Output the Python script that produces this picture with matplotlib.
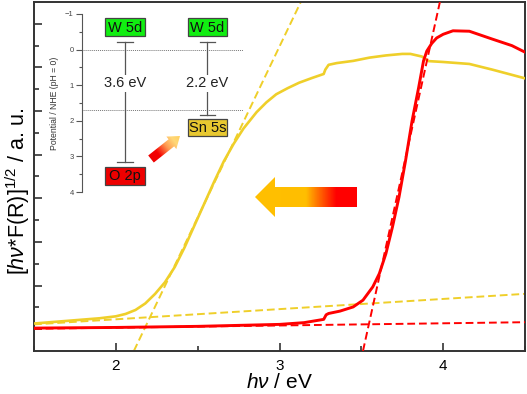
import numpy as np
import matplotlib
matplotlib.use("Agg")
import matplotlib.pyplot as plt
from matplotlib.patches import Polygon, Rectangle
from matplotlib.colors import LinearSegmentedColormap
from matplotlib.ticker import MultipleLocator, FixedLocator, NullFormatter

plt.rcParams['font.family'] = ['Liberation Sans', 'DejaVu Sans']
plt.rcParams['mathtext.fontset'] = 'custom'
plt.rcParams['mathtext.rm'] = 'Liberation Sans'
plt.rcParams['mathtext.it'] = 'Liberation Sans:italic'

# ---------------- data ----------------
red_x = [1.50, 2.00, 2.50, 3.00, 3.15, 3.27, 3.285, 3.30, 3.37, 3.45, 3.51, 3.57,
         3.61, 3.65, 3.69, 3.73, 3.77, 3.81, 3.85, 3.88, 3.90, 3.93, 3.96, 4.00,
         4.06, 4.16, 4.30, 4.42, 4.50]
red_y = [1.05, 1.08, 1.13, 1.22, 1.30, 1.45, 1.66, 1.72, 1.83, 2.02, 2.33, 2.94,
         3.55, 4.46, 5.68, 7.05, 8.72, 10.55, 12.07, 13.30, 13.75, 14.10, 14.35, 14.52,
         14.68, 14.66, 14.30, 14.00, 13.70]

yel_x = [1.50, 1.70, 1.90, 2.00, 2.06, 2.12, 2.18, 2.24, 2.30, 2.36, 2.42, 2.48,
         2.54, 2.60, 2.66, 2.72, 2.78, 2.86, 2.92, 2.98, 3.05, 3.12, 3.20,
         3.27, 3.28, 3.30, 3.35, 3.45, 3.55, 3.65, 3.75, 3.80, 3.87, 3.91, 4.00,
         4.16, 4.30, 4.50]
yel_y = [1.26, 1.38, 1.50, 1.59, 1.70, 1.88, 2.18, 2.62, 3.15, 3.85, 4.75, 5.75,
         6.75, 7.75, 8.70, 9.50, 10.20, 10.95, 11.40, 11.77, 12.05, 12.30, 12.52,
         12.70, 12.90, 13.12, 13.20, 13.30, 13.45, 13.55, 13.62, 13.62, 13.50, 13.29, 13.25,
         13.16, 12.90, 12.50]

# linear fits (dashed): endpoints
red_tan_x = [3.51, 3.98]
red_tan_y = [0.0, 16.0]
red_base_x = [1.50, 4.50]
red_base_y = [1.02, 1.32]
yel_tan_x = [2.11, 3.13]
yel_tan_y = [0.0, 16.0]
yel_base_x = [1.50, 4.50]
yel_base_y = [1.22, 2.62]

x_ticks = [2, 3, 4]

# inset band diagram
levels_cb = [-0.21, -0.21]          # W 5d caps
levels_vb = [3.17, 1.85]            # O 2p, Sn 5s caps
gap_labels = ['3.6 eV', '2.2 eV']
ref_lines = [0.0, 1.7]
inset_ticks = [-1, 0, 1, 2, 3, 4]

RED = '#FF0000'
YEL = '#EFCF2A'

fig = plt.figure(figsize=(5.27, 3.94), dpi=100)
W, H = 527.0, 394.0
ax = fig.add_axes([34 / W, 1 - 351 / H, (525 - 34) / W, (351 - 2) / H])

ax.plot(yel_x, yel_y, color=YEL, lw=1.9, zorder=3, solid_joinstyle='round')
ax.plot(red_x, red_y, color=RED, lw=2.1, zorder=4, solid_joinstyle='round')
dash = (4.0, 2.0)
ax.plot(yel_tan_x, yel_tan_y, color=YEL, lw=1.4, dashes=dash, zorder=2)
ax.plot(yel_base_x, yel_base_y, color=YEL, lw=1.4, dashes=dash, zorder=2)
ax.plot(red_tan_x, red_tan_y, color=RED, lw=1.4, dashes=dash, zorder=5)
ax.plot(red_base_x, red_base_y, color=RED, lw=1.4, dashes=dash, zorder=5)

ax.set_xlim(1.5, 4.5)
ax.set_ylim(0, 16)
ax.set_xticks(x_ticks)
ax.xaxis.set_minor_locator(MultipleLocator(0.5))
ax.yaxis.set_major_locator(FixedLocator(np.arange(1, 16, 2)))
ax.yaxis.set_minor_locator(FixedLocator(np.arange(2, 15, 2)))
ax.yaxis.set_major_formatter(NullFormatter())
ax.tick_params(which='both', direction='in', top=False, right=False,
               color='#333333', width=1.2, labelsize=11, pad=6)
ax.tick_params(which='major', length=6)
ax.tick_params(which='minor', length=3.5)
for s in ax.spines.values():
    s.set_color('#333333')
    s.set_linewidth(1.4)

ax.set_xlabel(r'$h\nu$ / eV', fontsize=15, labelpad=0)
ax.set_ylabel(r'[$h\nu$*F(R)]$^{1/2}$ / a. u.', fontsize=15.5)
ax.yaxis.set_label_coords(-0.004, 0.457)

# ---------------- inset ----------------
axi = fig.add_axes([82 / W, 1 - 192 / H, 161 / W, 178 / H])
axi.patch.set_alpha(0)
axi.set_xlim(0, 1)
axi.set_ylim(4, -1)
axi.set_yticks(inset_ticks)
axi.yaxis.set_minor_locator(MultipleLocator(0.5))
axi.set_xticks([])
for k in ['top', 'right', 'bottom']:
    axi.spines[k].set_visible(False)
axi.spines['left'].set_color('#555555')
axi.spines['left'].set_linewidth(0.8)
axi.tick_params(axis='y', which='both', direction='out', color='#555555', width=0.8,
                labelsize=5.5, labelcolor='#444444', pad=2)
axi.tick_params(axis='y', which='major', length=4)
axi.tick_params(axis='y', which='minor', length=2)
axi.set_ylabel('Potential / NHE (pH = 0)', fontsize=6.2, color='#333333', labelpad=4)

for r in ref_lines:
    axi.axhline(r, color='#777777', lw=0.7, ls=(0, (1, 1)), zorder=1)

col_x = [0.267, 0.778]
cap_half = 0.048
for cx, top, bot, lab in zip(col_x, levels_cb, levels_vb, gap_labels):
    axi.plot([cx, cx], [top, bot], color='#555555', lw=0.9, zorder=2)
    axi.plot([cx - cap_half, cx + cap_half], [top, top], color='#555555', lw=0.9, zorder=2)
    axi.plot([cx - cap_half, cx + cap_half], [bot, bot], color='#555555', lw=0.9, zorder=2)
    axi.text(cx, 0.95, lab, ha='center', va='center', fontsize=10.5, color='#222222',
             zorder=3, bbox=dict(boxstyle='square,pad=0.1', fc='white', ec='none'))

bw = 0.245
boxes = [(0.267, -0.64, 'W 5d', '#11EE11'),
         (0.778, -0.64, 'W 5d', '#11EE11'),
         (0.267, 3.54, 'O 2p', '#EE0000'),
         (0.778, 2.19, 'Sn 5s', '#E8C830')]
bh = 0.5
for cx, cy, lab, fc in boxes:
    axi.add_patch(Rectangle((cx - bw / 2, cy - bh / 2), bw, bh, fc=fc, ec='#444444',
                            lw=0.9, zorder=4, clip_on=False))
    axi.text(cx, cy + 0.02, lab, ha='center', va='center', fontsize=10.5, color='#111111',
             zorder=5, clip_on=False)

# ---------------- gradient arrows (overlay in pixel coords) ----------------
ov = fig.add_axes([0, 0, 1, 1], zorder=10)
ov.set_xlim(0, W)
ov.set_ylim(H, 0)
ov.axis('off')
ov.patch.set_alpha(0)


def grad_arrow(axo, tail, tip, body_w, head_w, head_len, cmap):
    tail = np.array(tail, float)
    tip = np.array(tip, float)
    d = tip - tail
    L = np.hypot(*d)
    u = d / L
    n = np.array([-u[1], u[0]])
    base = tip - u * head_len
    pts = [tail + n * body_w / 2, base + n * body_w / 2, base + n * head_w / 2, tip,
           base - n * head_w / 2, base - n * body_w / 2, tail - n * body_w / 2]
    pts = np.array(pts)
    poly = Polygon(pts, closed=True, fc='none', ec='none', transform=axo.transData)
    axo.add_patch(poly)
    x0, x1 = pts[:, 0].min() - 1, pts[:, 0].max() + 1
    y0, y1 = pts[:, 1].min() - 1, pts[:, 1].max() + 1
    gx, gy = np.meshgrid(np.linspace(x0, x1, 300), np.linspace(y0, y1, 300))
    t = ((gx - tail[0]) * u[0] + (gy - tail[1]) * u[1]) / L
    im = axo.imshow(t, extent=(x0, x1, y1, y0), origin='upper', cmap=cmap,
                    vmin=0, vmax=1, aspect='auto', interpolation='bilinear')
    im.set_clip_path(poly)


big_cmap = LinearSegmentedColormap.from_list(
    'big', [(0, '#FF0000'), (0.2, '#FF0000'), (0.38, '#FF7000'), (0.5, '#FFBE00'), (1, '#FFC000')])
small_cmap = LinearSegmentedColormap.from_list(
    'small', [(0, '#EE0000'), (0.25, '#F40000'), (0.55, '#FF9A50'), (0.8, '#FFD878'), (1, '#FFD060')])

grad_arrow(ov, (357, 197), (255, 197), 20, 40, 20, big_cmap)
grad_arrow(ov, (151, 159), (180, 136), 9, 16, 11, small_cmap)
ov.set_xlim(0, W)
ov.set_ylim(H, 0)

fig.savefig('out.png', dpi=100)
